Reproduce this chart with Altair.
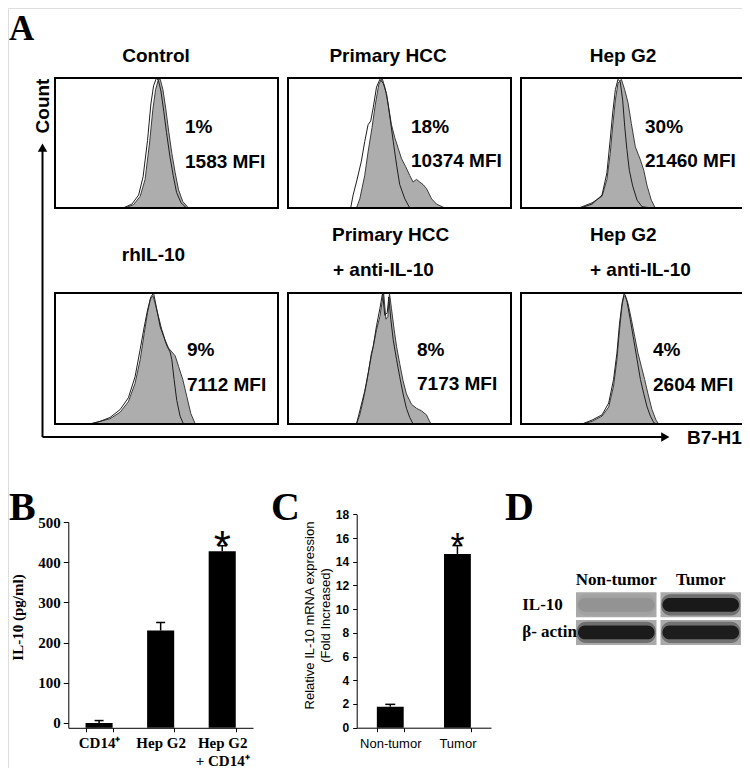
import altair as alt
import pandas as pd

# ---------------- data ----------------
A_PCT = ["1%", "18%", "30%", "9%", "8%", "4%"]
A_MFI = ["1583 MFI", "10374 MFI", "21460 MFI", "7112 MFI", "7173 MFI", "2604 MFI"]

# filled (grey) B7-H1 histograms, x = relative fluorescence position, y = relative count
TEST_X = [
    [31.4, 35.2, 38.2, 40.4, 42.4, 43.9, 45.1, 46.4, 47.2, 48.4, 49.7, 50.9, 52.4, 53.9, 55.4, 57.3, 59.9],
    [30.7, 32.2, 34.4, 35.9, 37.7, 39.2, 40.7, 42.2, 43.4, 44.9, 46.4, 47.9, 49.4, 50.9, 52.7, 54.6, 56.1, 57.6, 59.1, 60.6, 62.1, 64.4, 66.6, 70.4],
    [26.0, 32.0, 36.5, 38.7, 40.2, 41.3, 42.5, 43.7, 45.2, 46.7, 48.2, 49.7, 51.5, 53.8, 55.3, 56.8, 58.7, 60.5],
    [15.7, 20.2, 24.7, 29.2, 32.9, 35.9, 38.2, 40.0, 41.5, 42.7, 43.9, 44.9, 46.4, 47.9, 49.4, 50.9, 52.4, 53.9, 55.4, 57.3, 59.1, 60.9, 62.9],
    [30.7, 32.2, 33.7, 35.2, 36.7, 38.2, 39.7, 41.2, 42.2, 42.9, 43.9, 44.8, 45.5, 46.4, 47.6, 48.7, 50.1, 51.6, 53.1, 55.4, 57.6, 59.9, 62.1, 63.2, 64.1],
    [27.5, 32.0, 36.5, 39.5, 41.7, 43.2, 44.4, 45.5, 46.2, 47.0, 48.2, 49.7, 51.2, 52.7, 54.2, 55.7, 57.2, 59.0, 60.8, 62.0],
]
TEST_Y = [
    [0, 2.5, 9, 22, 50, 76, 91, 99, 99, 91, 76, 60, 42, 27, 14, 5, 0],
    [0, 7, 25, 43, 62, 80, 95, 100, 93, 80, 64, 54, 46, 38, 32, 25, 20, 22, 20, 18, 15, 7, 3, 0],
    [0, 4, 9, 22, 42, 63, 83, 96, 99, 91, 81, 65, 47, 37, 29, 17, 6, 0],
    [0, 2, 4, 9, 17, 31, 49, 69, 85, 95, 98, 92, 82, 72, 64, 58, 55, 52, 44, 34, 21, 8, 0],
    [0, 7, 18, 31, 46, 59, 72, 82, 93, 100, 80, 82, 100, 88, 72, 59, 46, 33, 23, 15, 12, 10, 7, 3, 0],
    [0, 2, 6, 13, 29, 49, 72, 90, 97, 98, 92, 80, 67, 54, 44, 34, 23, 11, 3, 0],
]
# open (isotype control) histograms
ISO_X = [
    [30.5, 34.5, 37.5, 39.5, 41.5, 43.0, 44.2, 45.5, 46.4, 47.5, 48.8, 50.0, 51.5, 53.0, 54.5, 56.5, 59.0],
    [28.1, 29.2, 30.7, 32.9, 34.4, 35.9, 37.1, 38.2, 39.7, 41.2, 42.7, 44.2, 45.7, 47.2, 48.7, 50.1, 52.4, 54.6],
    [26.7, 32.0, 36.5, 38.7, 40.2, 41.3, 42.5, 43.7, 44.7, 45.8, 46.7, 47.7, 48.8, 50.3, 52.3, 54.5, 59.0],
    [15.7, 20.2, 24.7, 29.2, 32.9, 35.9, 38.2, 40.0, 41.5, 43.0, 44.2, 45.7, 47.2, 48.7, 50.1, 51.6, 52.4, 53.4, 54.6, 56.1, 57.6],
    [30.7, 32.2, 34.4, 36.2, 37.4, 38.2, 39.7, 41.2, 42.4, 43.4, 44.5, 45.2, 46.1, 47.2, 48.7, 50.1, 51.6, 53.1, 54.6, 56.1],
    [27.5, 32.0, 36.5, 39.5, 41.7, 43.2, 44.4, 45.5, 46.5, 47.7, 49.2, 50.8, 52.3, 53.8, 55.3, 56.8, 58.3, 59.8, 61.2],
]
ISO_Y = [
    [0, 3, 10, 24, 52, 80, 94, 100, 98, 90, 74, 58, 40, 25, 12, 4, 0],
    [0, 10, 20, 36, 51, 64, 67, 77, 93, 99, 96, 88, 70, 51, 33, 18, 7, 0],
    [0, 3, 10, 27, 53, 73, 91, 99, 97, 83, 63, 45, 29, 17, 6, 1, 0],
    [0, 2, 5, 11, 20, 36, 57, 74, 87, 97, 100, 87, 74, 67, 60, 55, 49, 34, 18, 6, 0],
    [0, 10, 25, 41, 54, 59, 75, 88, 100, 83, 85, 97, 80, 64, 49, 36, 23, 12, 5, 0],
    [0, 3, 7, 16, 34, 54, 77, 92, 100, 94, 80, 64, 49, 34, 23, 13, 6, 1, 0],
]

B_CATS = ["CD14\u207a", "Hep G2", "Hep G2|+ CD14\u207a"]
B_MEAN = [0, 230, 427]
B_ERR = [6, 20, 14]
B_SIG = [False, False, True]

C_CATS = ["Non-tumor", "Tumor"]
C_MEAN = [1.77, 14.66]
C_ERR = [0.2, 0.7]
C_SIG = [False, True]

D_LANES = ["Non-tumor", "Tumor"]
D_ROWS = ["IL-10", "\u03b2- actin"]
D_BAND = [0.10, 0.95, 0.93, 0.90]  # (IL-10 non-tumor, IL-10 tumor, actin non-tumor, actin tumor)

# ---------------- layout ----------------
OFF = 8
W, H = 750 - 2 * OFF, 776 - 2 * OFF


def px(v):
    return v - OFF


SANS = "Liberation Sans"
SERIF = "Liberation Serif"
COLS = [(55, 278), (288, 511), (521, 743)]
ROWS = [(78, 208), (293, 424)]

layers = []


def text(txt, x, y, size, font=SANS, weight="bold", align="left", baseline="middle", angle=0):
    return alt.Chart(pd.DataFrame({"t": [txt]})).mark_text(
        font=font, fontSize=size, fontWeight=weight, align=align,
        baseline=baseline, angle=angle, color="black"
    ).encode(x=alt.value(px(x)), y=alt.value(px(y)), text="t:N")


# ---------- Panel A ----------
for i in range(6):
    x0, x1 = COLS[i % 3]
    y0, y1 = ROWS[i // 3]
    xs = alt.Scale(domain=[0, 100], range=[px(x0), px(x1)], nice=False, zero=False)
    ys = alt.Scale(domain=[0, 100], range=[px(y1), px(y0)], nice=False, zero=False)
    test = pd.DataFrame({"x": TEST_X[i], "y": TEST_Y[i]})
    iso = pd.DataFrame({"x": ISO_X[i], "y": ISO_Y[i]})
    layers.append(alt.Chart(test).mark_area(
        color="#8a8a8a", line={"color": "#3c3c3c", "strokeWidth": 1}
    ).encode(x=alt.X("x:Q", scale=xs, axis=None), y=alt.Y("y:Q", scale=ys, axis=None)))
    layers.append(alt.Chart(iso).mark_line(color="#1e1e1e", strokeWidth=1).encode(
        x=alt.X("x:Q", scale=xs, axis=None), y=alt.Y("y:Q", scale=ys, axis=None)))
    frame = pd.DataFrame({"x": [0], "x2": [100], "y": [0], "y2": [100]})
    layers.append(alt.Chart(frame).mark_rect(fillOpacity=0, stroke="black", strokeWidth=2).encode(
        x=alt.X("x:Q", scale=xs, axis=None), x2="x2:Q",
        y=alt.Y("y:Q", scale=ys, axis=None), y2="y2:Q"))

PCT_POS = [(185, 127), (411, 127), (645, 127), (187, 350), (417, 350), (653, 350)]
MFI_POS = [(185, 162), (411, 161), (645, 161), (187, 385), (417, 384), (653, 385)]
for i in range(6):
    layers.append(text(A_PCT[i], PCT_POS[i][0], PCT_POS[i][1], 19))
    layers.append(text(A_MFI[i], MFI_POS[i][0], MFI_POS[i][1], 19))

layers += [
    text("Control", 156, 56, 19, align="center"),
    text("Primary HCC", 388, 56, 19, align="center"),
    text("Hep G2", 623, 56, 19, align="center"),
    text("rhIL-10", 153.5, 255, 19, align="center"),
    text("Primary HCC", 332, 235, 19),
    text("+ anti-IL-10", 333, 270, 19),
    text("Hep G2", 590, 235, 19),
    text("+ anti-IL-10", 590, 270, 19),
    text("Count", 42.5, 106, 19, align="center", angle=270),
    text("B7-H1", 687, 438, 19),
]

# axis arrows of panel A
axs = alt.Scale(domain=[0, 1], range=[px(42.5), px(665.3)], nice=False, zero=False)
ays = alt.Scale(domain=[0, 1], range=[px(437), px(147.7)], nice=False, zero=False)
arrow_lines = pd.DataFrame({"x": [0, 0], "y": [0, 0], "x2": [1, 0], "y2": [0, 1]})
layers.append(alt.Chart(arrow_lines).mark_rule(color="black", strokeWidth=2).encode(
    x=alt.X("x:Q", scale=axs, axis=None), x2="x2:Q",
    y=alt.Y("y:Q", scale=ays, axis=None), y2="y2:Q"))
heads = pd.DataFrame({"x": [1, 0], "y": [0, 1], "s": ["triangle-right", "triangle-up"]})
layers.append(alt.Chart(heads).mark_point(filled=True, size=90, color="black", opacity=1).encode(
    x=alt.X("x:Q", scale=axs, axis=None), y=alt.Y("y:Q", scale=ays, axis=None),
    shape=alt.Shape("s:N", scale=None)))

# ---------- Panel B ----------
dfB = pd.DataFrame({"cat": B_CATS, "mean": B_MEAN, "err": B_ERR, "sig": B_SIG})
dfB["top"] = dfB["mean"] + dfB["err"]
bx = alt.Scale(domain=B_CATS, range=[px(68.3), px(253)], paddingInner=0.56, paddingOuter=0.28)
by = alt.Scale(domain=[-12, 500], range=[px(727.8), px(522)], nice=False, zero=False)
layers.append(alt.Chart(dfB).mark_bar(color="black").encode(
    x=alt.X("cat:N", scale=bx, sort=B_CATS, axis=alt.Axis(
        orient="bottom", offset=px(727.8) - H, title=None, labelAngle=0,
        labelExpr="split(datum.label, '|')", labelFont=SERIF, labelFontSize=15,
        labelFontWeight="bold", labelColor="black", labelPadding=4, labelLineHeight=18,
        tickBand="extent", tickSize=4, tickColor="black", domainColor="black", grid=False)),
    y=alt.Y("mean:Q", scale=by, axis=alt.Axis(
        orient="left", offset=-px(68.3), values=[0, 100, 200, 300, 400, 500],
        tickSize=5, tickColor="black", domainColor="black", labelColor="black",
        labelFont=SERIF, labelFontSize=15, labelFontWeight="bold", labelPadding=3, grid=False,
        title="IL-10 (pg/ml)", titleFont=SERIF, titleFontSize=15, titleFontWeight="bold",
        titleColor="black", titleX=17.3 - 68.3, titleY=px(617), titleAngle=270,
        titleAlign="center", titleBaseline="middle")),
    y2=alt.datum(-12),
))
layers.append(alt.Chart(dfB).mark_rule(color="black", strokeWidth=1.5).encode(
    x=alt.X("cat:N", scale=bx, sort=B_CATS, axis=None),
    y=alt.Y("mean:Q", scale=by, axis=None), y2="top:Q"))
layers.append(alt.Chart(dfB).mark_tick(orient="horizontal", size=9, thickness=1.5, color="black", opacity=1).encode(
    x=alt.X("cat:N", scale=bx, sort=B_CATS, axis=None),
    y=alt.Y("top:Q", scale=by, axis=None)))
layers.append(alt.Chart(dfB[dfB["sig"]]).mark_text(
    text="*", font=SANS, fontSize=44, baseline="alphabetic", dy=16, color="black").encode(
    x=alt.X("cat:N", scale=bx, sort=B_CATS, axis=None),
    y=alt.Y("top:Q", scale=by, axis=None)))

# ---------- Panel C ----------
dfC = pd.DataFrame({"cat": C_CATS, "mean": C_MEAN, "err": C_ERR, "sig": C_SIG})
dfC["top"] = dfC["mean"] + dfC["err"]
cx = alt.Scale(domain=C_CATS, range=[px(356.7), px(491)], paddingInner=0.6, paddingOuter=0.3)
cy = alt.Scale(domain=[0, 18], range=[px(727.7), px(514.3)], nice=False, zero=False)
layers.append(alt.Chart(dfC).mark_bar(color="black").encode(
    x=alt.X("cat:N", scale=cx, sort=C_CATS, axis=alt.Axis(
        orient="bottom", offset=px(727.7) - H, title=None, labelAngle=0,
        labelFont=SANS, labelFontSize=13, labelColor="black", labelPadding=6,
        tickBand="extent", tickSize=4, tickColor="black", domainColor="black", grid=False)),
    y=alt.Y("mean:Q", scale=cy, axis=alt.Axis(
        orient="left", offset=-px(356.7), values=list(range(0, 19, 2)),
        tickSize=4, tickColor="black", domainColor="black", labelColor="black",
        labelFont=SANS, labelFontSize=12, labelFontWeight="bold", labelPadding=4, grid=False,
        title=["Relative IL-10 mRNA expression", "(Fold Increased)"], titleFont=SANS,
        titleFontSize=13, titleFontWeight="normal", titleColor="black", titleLineHeight=16,
        titleX=309 - 356.7, titleY=px(615), titleAngle=270,
        titleAlign="center", titleBaseline="middle")),
))
layers.append(alt.Chart(dfC).mark_rule(color="black", strokeWidth=1.5).encode(
    x=alt.X("cat:N", scale=cx, sort=C_CATS, axis=None),
    y=alt.Y("mean:Q", scale=cy, axis=None), y2="top:Q"))
layers.append(alt.Chart(dfC).mark_tick(orient="horizontal", size=10, thickness=1.5, color="black", opacity=1).encode(
    x=alt.X("cat:N", scale=cx, sort=C_CATS, axis=None),
    y=alt.Y("top:Q", scale=cy, axis=None)))
layers.append(alt.Chart(dfC[dfC["sig"]]).mark_text(
    text="*", font=SANS, fontSize=36, baseline="alphabetic", dy=13, color="black").encode(
    x=alt.X("cat:N", scale=cx, sort=C_CATS, axis=None),
    y=alt.Y("top:Q", scale=cy, axis=None)))

# ---------- Panel D (western blot) ----------
dfD = pd.DataFrame({
    "lane": [D_LANES[0], D_LANES[1], D_LANES[0], D_LANES[1]],
    "row": [D_ROWS[0], D_ROWS[0], D_ROWS[1], D_ROWS[1]],
    "band": D_BAND,
})
dfD["halo"] = dfD["band"] * 0.45
dxs = alt.Scale(domain=D_LANES, range=[px(576), px(741)], paddingInner=0.047, paddingOuter=0)
dys = alt.Scale(domain=D_ROWS, range=[px(592.3), px(645)], paddingInner=0.094, paddingOuter=0)
layers.append(alt.Chart(dfD).mark_rect(color="#a9a9a9").encode(
    x=alt.X("lane:N", scale=dxs, sort=D_LANES, axis=alt.Axis(
        orient="top", offset=-px(592.3), domain=False, ticks=False, tickSize=0,
        labelPadding=4, labelFont=SERIF, labelFontSize=17, labelFontWeight="bold",
        labelColor="black", labelAngle=0, title=None, grid=False)),
    y=alt.Y("row:N", scale=dys, sort=D_ROWS, axis=alt.Axis(
        orient="left", offset=-px(576), domain=False, ticks=False, tickSize=0,
        labelPadding=54.3, labelAlign="left", labelBaseline="middle", labelFont=SERIF,
        labelFontSize=17, labelFontWeight="bold", labelColor="black", title=None, grid=False)),
))
layers.append(alt.Chart(dfD).mark_rect(color="#202020", cornerRadius=9,
                                        width={"band": 0.98}, height={"band": 0.85}).encode(
    x=alt.X("lane:N", scale=dxs, sort=D_LANES, axis=None),
    y=alt.Y("row:N", scale=dys, sort=D_ROWS, axis=None),
    opacity=alt.Opacity("halo:Q", scale=None)))
layers.append(alt.Chart(dfD).mark_rect(color="#141414", cornerRadius=7,
                                        width={"band": 0.95}, height={"band": 0.55}).encode(
    x=alt.X("lane:N", scale=dxs, sort=D_LANES, axis=None),
    y=alt.Y("row:N", scale=dys, sort=D_ROWS, axis=None),
    opacity=alt.Opacity("band:Q", scale=None)))

# ---------- panel letters ----------
layers += [
    text("A", 9, 40, 35, font=SERIF, baseline="alphabetic"),
    text("B", 9, 520, 40, font=SERIF, baseline="alphabetic"),
    text("C", 271, 520, 40, font=SERIF, baseline="alphabetic"),
    text("D", 505, 520, 40, font=SERIF, baseline="alphabetic"),
]

chart = alt.layer(*layers).resolve_scale(
    x="independent", y="independent"
).resolve_axis(
    x="independent", y="independent"
).properties(
    width=W, height=H, padding=0, autosize=alt.AutoSizeParams(type="none")
).configure_view(strokeWidth=0).configure(background="white")

chart.save("out.html", embed_options={"renderer": "svg", "actions": False})
